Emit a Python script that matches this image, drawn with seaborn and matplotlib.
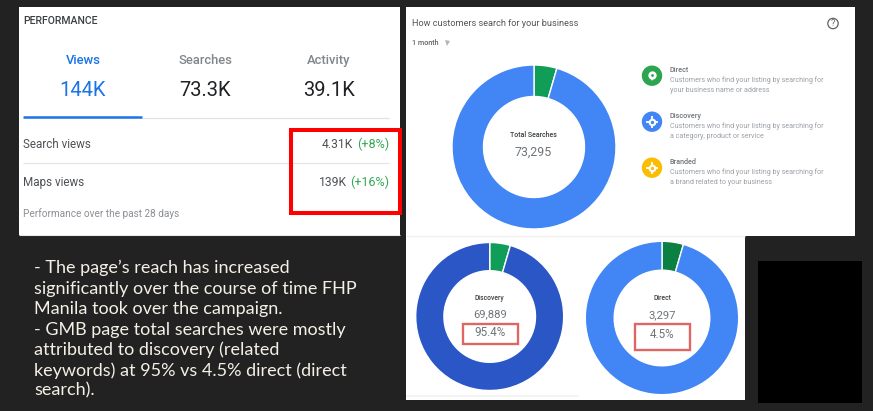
import matplotlib
matplotlib.use("Agg")
import matplotlib.pyplot as plt
import seaborn as sns
from matplotlib.patches import Rectangle, Circle

W, H = 873, 411

# Data
search_labels = ["Direct", "Discovery"]
search_values = [3297, 69889]
total_searches = "73,295"
discovery_text = ["Discovery", "69,889", "95.4%"]
direct_text = ["Direct", "3,297", "4.5%"]

tab_labels = ["Views", "Searches", "Activity"]
tab_values = ["144K", "73.3K", "39.1K"]
row_labels = ["Search views", "Maps views"]
row_values = ["4.31K", "139K"]
row_changes = ["(+8%)", "(+16%)"]

legend_titles = ["Direct", "Discovery", "Branded"]
legend_lines = [
    ["Customers who find your listing by searching for", "your business name or address"],
    ["Customers who find your listing by searching for", "a category, product or service"],
    ["Customers who find your listing by searching for", "a brand related to your business"],
]
notes = [
    "- The page’s reach has increased",
    "significantly over the course of time FHP",
    "Manila took over the campaign.",
    "- GMB page total searches were mostly",
    "attributed to discovery (related",
    "keywords) at 95% vs 4.5% direct (direct",
    "search).",
]

sns.set_theme(style="white")
plt.rcParams["font.family"] = ["Roboto", "DejaVu Sans"]

blue, green, yellow, dark_blue, dark_green = sns.color_palette(
    ["#4285f4", "#0f9d58", "#fbbc04", "#2a56c6", "#0b8043"])
top_green = "#2da44e"

fig = plt.figure(figsize=(W / 100, H / 100), dpi=100, facecolor="#222222")
bg = fig.add_axes([0, 0, 1, 1])
bg.set_xlim(0, W)
bg.set_ylim(H, 0)
bg.axis("off")


def panel(x0, y0, x1, y1, color="white"):
    bg.add_patch(Rectangle((x0, y0), x1 - x0, y1 - y0, fc=color, ec="none"))


def hline(x0, x1, y, color="#e3e3e3", lw=0.8):
    bg.plot([x0, x1], [y, y], color=color, lw=lw, solid_capstyle="butt")


def label(x, y, s, size, color="#555555", ha="left", **kw):
    bg.text(x, y, s, fontsize=size, color=color, ha=ha, va="center", **kw)


def donut(cx, cy, r, r_in, colors):
    ax = fig.add_axes([(cx - r) / W, 1 - (cy + r) / H, 2 * r / W, 2 * r / H])
    ax.pie(search_values, colors=colors, startangle=90, counterclock=False, radius=1,
           wedgeprops=dict(width=1 - r_in / r, edgecolor="white", linewidth=1))
    ax.set_xlim(-1, 1)
    ax.set_ylim(-1, 1)
    ax.set_zorder(1)


panel(19, 7, 400, 235)
panel(406, 7, 855, 236)
panel(406, 236, 745, 400)
panel(758, 261, 862, 403, "black")

# Left card
label(23, 21, "PERFORMANCE", 7.6, "#3c4043", fontweight="medium")
for x, name, val, i in zip([83, 205.5, 329], tab_labels, tab_values, range(3)):
    label(x, 60.5, name, 9.4, "#1a73e8" if i == 0 else "#80868b", ha="center", fontweight="medium")
    label(x, 90, val, 14.5, "#1a73e8" if i == 0 else "#202124", ha="center")
hline(142, 389, 118, "#e3e3e3", 0.9)
hline(23, 142, 117, "#1a73e8", 1.8)
hline(23, 389, 163.5)
hline(19, 400, 234.5, "#e8e8e8")
for y, name, val, chg, vx in zip([144, 182], row_labels, row_values, row_changes, [353, 347]):
    label(23, y, name, 8.4, "#4d5156")
    label(vx, y, val, 8.7, "#4d5156", ha="right")
    label(389, y, chg, 9, "#34a853", ha="right")
label(23, 213.5, "Performance over the past 28 days", 7.2, "#8b8f94")
bg.add_patch(Rectangle((291, 130), 109, 83, fc="none", ec="#ff0000", lw=2.9, zorder=5))

# Top right card
label(412, 23, "How customers search for your business", 6.6, "#555555")
label(412, 42.7, "1 month", 5.2, "#5f6368", fontweight="medium")
bg.plot([447], [43], marker="v", ms=3.6, color="#b5b5b5", mew=0)
bg.add_patch(Circle((833, 23.5), 5.2, fc="none", ec="#5f6368", lw=0.9))
label(833, 23.5, "?", 6.5, "#5f6368", ha="center")

donut(534, 147, 82, 50.5, [green, blue])
donut(489.7, 316.5, 74, 45.8, [green, dark_blue])
donut(662, 318, 76.7, 47.8, [dark_green, blue])

fg = fig.add_axes([0, 0, 1, 1], zorder=3)
fg.set_xlim(0, W)
fg.set_ylim(H, 0)
fg.axis("off")
fg.patch.set_alpha(0)
bg = fg

label(533.5, 134.5, "Total Searches", 5.0, "#3c4043", ha="center", fontweight="medium")
label(533.5, 152.5, total_searches, 8.9, "#70757a", ha="center")

for y, title, lines, col in zip([75.7, 121.7, 167.7], legend_titles, legend_lines,
                                [top_green, blue, yellow]):
    bg.add_patch(Circle((652, y), 10.2, fc=col, ec="none"))
    if title == "Direct":
        bg.plot([652], [y + 2.2], marker="v", ms=5, color="white", mew=0)
        bg.plot([652], [y - 1], marker="o", ms=6, color="white", mew=0)
        bg.plot([652], [y - 1], marker="o", ms=2, color=col, mew=0)
    else:
        bg.plot([652], [y], marker="+", ms=9, color="white", mew=1.3)
        bg.plot([652], [y], marker="o", ms=5.5, color="white", mew=0)
        bg.plot([652], [y], marker="o", ms=2.4, color=col, mew=0)
    label(670, y - 5.5, title, 5.2, "#70757a", fontweight="medium")
    label(670, y + 4.7, lines[0], 5.1, "#9aa0a6")
    label(670, y + 15, lines[1], 5.1, "#9aa0a6")

# Bottom donuts
hline(406, 578, 395.7, "#f1f1f1", 1.2)
hline(406, 745, 236, "#f1f1f1", 1.0)
for cx, texts, ys, box in [
    (489.7, discovery_text, [297.7, 314, 332], (463, 323.7, 54.7, 20.3)),
    (662, direct_text, [298, 315, 334.5], (635, 323.7, 55, 26.3)),
]:
    label(cx, ys[0], texts[0], 4.9, "#3c4043", ha="center", fontweight="medium")
    label(cx, ys[1], texts[1], 8.1, "#70757a", ha="center")
    label(cx, ys[2], texts[2], 8.4, "#70757a", ha="center")
    bg.add_patch(Rectangle(box[:2], box[2], box[3], fc="none", ec="#e06666", lw=1.7))

# Notes on the dark background
for i, line in enumerate(notes):
    label(34, 268.3 + i * 20.4, line, 13, "#f4f0e6", family=["Lato", "DejaVu Sans"])

fig.savefig("out.png", dpi=100, facecolor=fig.get_facecolor())
